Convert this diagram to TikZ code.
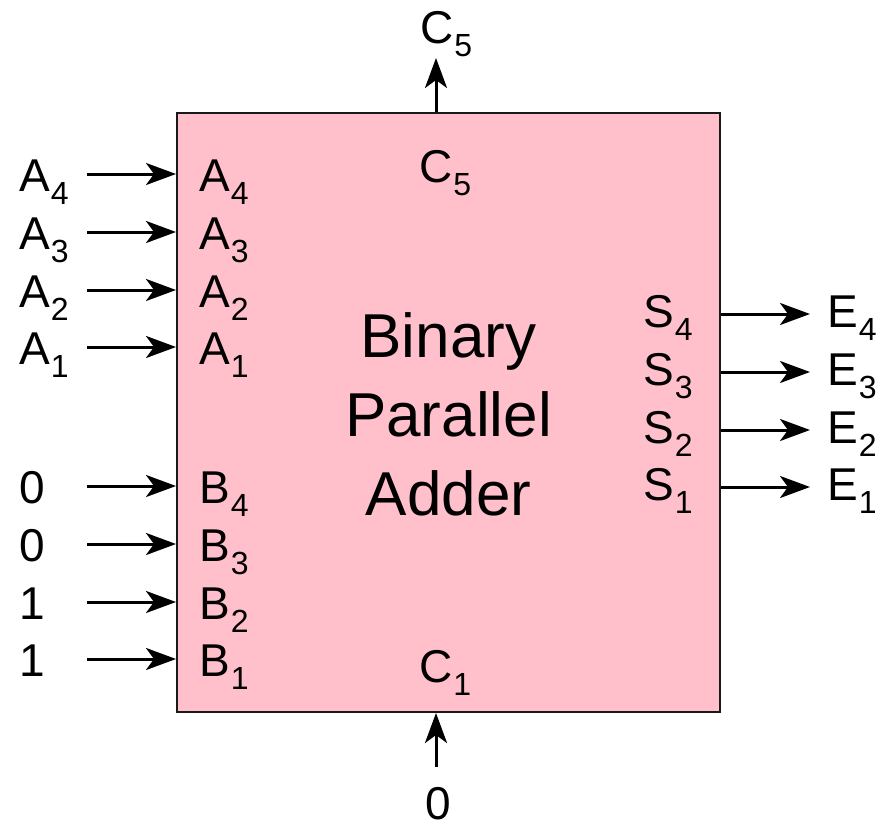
\documentclass[tikz,border=0pt]{standalone}
\usepackage{fontspec}
\setmainfont{Liberation Sans}
\usetikzlibrary{arrows.meta}
\definecolor{boxpink}{RGB}{255,192,203}
\newcommand\lbl[2]{#1\kern1pt\raisebox{-13pt}{\fontsize{32}{34}\selectfont #2}}
\begin{document}
\begin{tikzpicture}[x=1pt,y=-1pt,
  lab/.style={inner sep=0pt,font=\fontsize{46}{52}\selectfont},
  arr/.style={line width=3pt,-{Stealth[length=30pt,width=22pt,inset=8pt]}},
  adder/.style={draw=black!90,line width=2pt,fill=boxpink,minimum width=543pt,minimum height=599pt,inner sep=0pt}]
\useasboundingbox (0,0) rectangle (881,827);
\node[adder] (box) at (448.5,412.5) {};
\node[inner sep=0pt,font=\fontsize{62}{79}\selectfont,align=center] (title) at (448.5,414) {Binary\\Parallel\\Adder};
% left inputs
\foreach \nm/\y/\outer/\inner in {a4/174/\lbl{A}{4}/\lbl{A}{4}, a3/232/\lbl{A}{3}/\lbl{A}{3}, a2/290/\lbl{A}{2}/\lbl{A}{2}, a1/347/\lbl{A}{1}/\lbl{A}{1},
  b4/486/0/\lbl{B}{4}, b3/544/0/\lbl{B}{3}, b2/602/1/\lbl{B}{2}, b1/659/1/\lbl{B}{1}}{
  \node[lab,anchor=base west] (o\nm) at (19,\y+17) {\outer};
  \node[lab,anchor=base west] (i\nm) at (199,\y+17) {\inner};
  \coordinate (t\nm) at (87,\y);
  \draw[arr] (t\nm) -- (box.west |- t\nm);
}
% right outputs
\foreach \nm/\y/\n in {s4/314/4, s3/372/3, s2/430/2, s1/487/1}{
  \node[lab,anchor=base west] (i\nm) at (643,\y+13) {\lbl{S}{\n}};
  \node[lab,anchor=base west] (o\nm) at (827,\y+13) {\lbl{E}{\n}};
  \coordinate (h\nm) at (810,\y);
  \draw[arr] (box.east |- h\nm) -- (h\nm);
}
% carries
\node[lab,anchor=base west] (ic5) at (419,182) {\lbl{C}{5}};
\node[lab,anchor=base west] (oc5) at (420,43) {\lbl{C}{5}};
\node[lab,anchor=base west] (ic1) at (419,682) {\lbl{C}{1}};
\node[lab,anchor=base] (zero) at (438,819) {0};
\coordinate (c5tip) at (436,58);
\coordinate (c1tail) at (436,767);
\draw[arr] (box.north -| c5tip) -- (c5tip);
\draw[arr] (c1tail) -- (box.south -| c1tail);
\end{tikzpicture}
\end{document}
